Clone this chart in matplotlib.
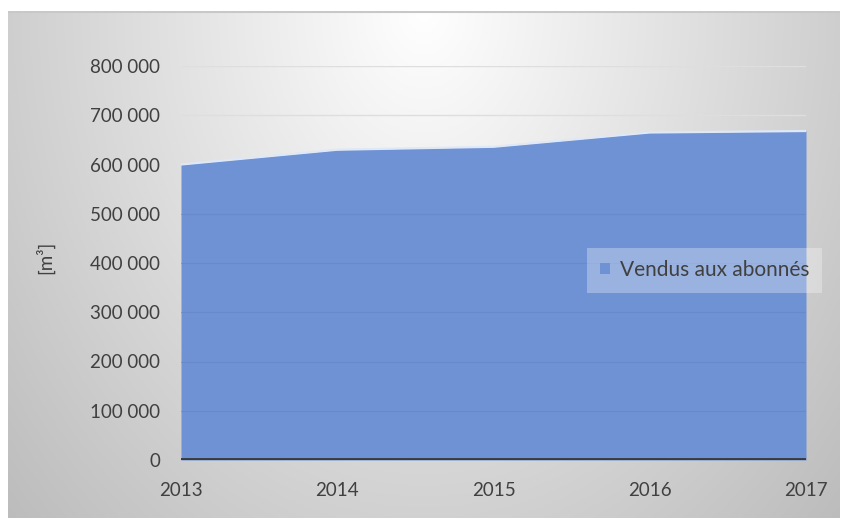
import numpy as np
import matplotlib
matplotlib.use("Agg")
import matplotlib.pyplot as plt
from matplotlib.ticker import FuncFormatter, MultipleLocator
from matplotlib.patches import Patch

# données
annees = [2013, 2014, 2015, 2016, 2017]
vendus = [600000, 630000, 636000, 665000, 668000]
serie_label = "Vendus aux abonnés"
y_label = "[m³]"

plt.rcParams['font.family'] = ['Lato', 'DejaVu Sans']

fig = plt.figure(figsize=(8.44, 5.21), dpi=100)
fig.patch.set_facecolor("white")

# fond en dégradé (style Excel)
bg = fig.add_axes([8/844, 3/521, 832/844, 507/521])
bg.set_axis_off()
gx, gy = np.meshgrid(np.linspace(-1, 1, 400), np.linspace(0, 1, 300))
r = np.sqrt((gx * 0.95) ** 2 + (gy * 0.9) ** 2)
shade = 1.0 - 0.26 * np.clip(r, 0, 1.3) / 1.3
bg.imshow(np.dstack([shade, shade, shade]), aspect="auto", origin="upper",
          extent=[0, 1, 0, 1])
bg.set_xlim(0, 1)
bg.set_ylim(0, 1)
bg.axhline(0.998, color="#c8c8c8", linewidth=1.5)

ax = fig.add_axes([181/844, 61/521, 625/844, 394/521])
ax.patch.set_alpha(0)

ax.fill_between(annees, vendus, 0, color="#6E92D3", zorder=2, linewidth=0)
ax.plot(annees, vendus, color="#dfe8f7", linewidth=1.6, zorder=3)

ax.set_xlim(2013, 2017)
ax.set_ylim(0, 800000)
ax.yaxis.set_major_locator(MultipleLocator(100000))
ax.yaxis.set_major_formatter(FuncFormatter(lambda v, p: f"{int(v):,}".replace(",", " ")))
ax.set_xticks(annees)

for yv in range(100000, 800001, 100000):
    ax.axhline(yv, color="#dedede", linewidth=1.0, zorder=1)
    if yv < min(vendus):
        ax.axhline(yv, color="#6585c4", linewidth=0.8, alpha=0.6, zorder=2.5)

for s in ax.spines.values():
    s.set_visible(False)
ax.axhline(0, color="#3a3a3a", linewidth=3.5, zorder=4)

ax.tick_params(axis="both", length=0, labelsize=13.5, colors="#404040")
ax.tick_params(axis="x", pad=16)
ax.tick_params(axis="y", pad=15)

fig.text(45/844, 1 - 257/521, y_label, rotation=90, ha="center", va="center",
         fontsize=13.5, color="#404040")

leg = ax.legend(handles=[Patch(facecolor="#6E92D3", edgecolor="none")],
                labels=[serie_label], loc="center left",
                bbox_to_anchor=(587/844, 1 - 270/521), bbox_transform=fig.transFigure,
                frameon=True, fontsize=15, handlelength=0.5, handleheight=0.45,
                handletextpad=0.5, borderpad=0.6, borderaxespad=0, fancybox=False)
leg.get_frame().set_facecolor("white")
leg.get_frame().set_alpha(0.3)
leg.get_frame().set_linewidth(0)
for t in leg.get_texts():
    t.set_color("#404040")

fig.savefig("out.png", dpi=100)
